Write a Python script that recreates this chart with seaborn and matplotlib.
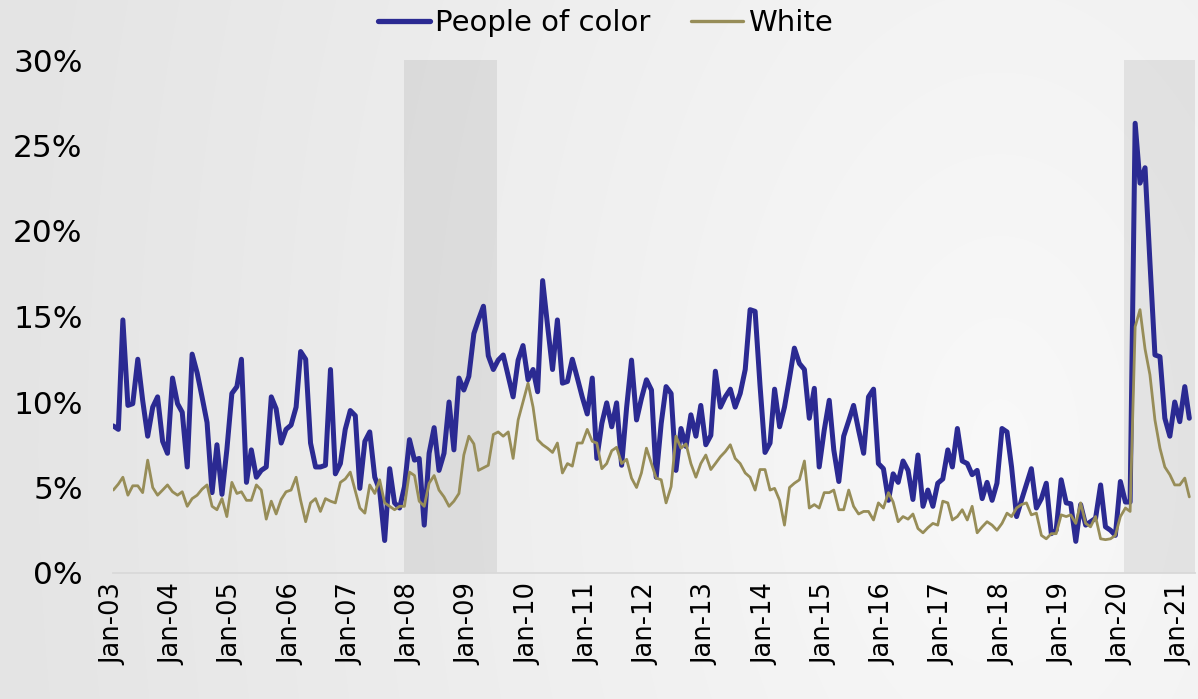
import numpy as np
import pandas as pd
import matplotlib
matplotlib.use("Agg")
import matplotlib.pyplot as plt
import seaborn as sns
from matplotlib.lines import Line2D

# ---------------- data ----------------
start_month = "2003-01-01"

people_of_color = [
    8.6, 8.4, 14.8, 9.8, 9.9, 12.5, 10.1, 8.0, 9.7, 10.3, 7.7, 7.0,          # 2003
    11.4, 9.9, 9.4, 6.2, 12.8, 11.7, 10.3, 8.8, 4.7, 7.5, 4.6, 7.2,          # 2004
    10.5, 10.9, 12.5, 5.3, 7.2, 5.6, 6.0, 6.2, 10.3, 9.6, 7.6, 8.4,          # 2005
    8.65, 9.7, 12.95, 12.5, 7.6, 6.2, 6.2, 6.3, 11.9, 5.8, 6.4, 8.4,         # 2006
    9.5, 9.2, 4.95, 7.7, 8.25, 5.6, 4.85, 1.9, 6.1, 4.1, 3.8, 5.05,          # 2007
    7.8, 6.6, 6.7, 2.8, 7.0, 8.5, 6.0, 7.0, 10.0, 7.2, 11.4, 10.7,           # 2008
    11.5, 14.0, 14.8, 15.6, 12.7, 11.9, 12.45, 12.75, 11.5, 10.3, 12.45, 13.3,  # 2009
    11.3, 11.9, 10.6, 17.1, 14.5, 11.9, 14.8, 11.1, 11.2, 12.5, 11.4, 10.3,  # 2010
    9.3, 11.4, 6.7, 8.75, 9.95, 8.55, 9.95, 6.3, 9.7, 12.45, 8.95, 10.2,     # 2011
    11.3, 10.7, 5.6, 8.75, 10.9, 10.5, 6.0, 8.45, 7.4, 9.25, 8.0, 9.8,       # 2012
    7.5, 8.05, 11.8, 9.7, 10.3, 10.75, 9.7, 10.5, 11.9, 15.4, 15.3, 11.0,    # 2013
    7.05, 7.6, 10.75, 8.55, 9.7, 11.4, 13.15, 12.25, 11.9, 9.05, 10.8, 6.2,  # 2014
    8.35, 10.1, 7.2, 5.35, 8.0, 8.9, 9.8, 8.35, 7.0, 10.3, 10.75, 6.4,       # 2015
    6.1, 4.25, 5.8, 5.3, 6.55, 6.0, 4.3, 6.9, 3.9, 4.85, 3.9, 5.25,          # 2016
    5.5, 7.2, 6.2, 8.45, 6.55, 6.4, 5.75, 6.0, 4.35, 5.3, 4.25, 5.25,        # 2017
    8.45, 8.25, 6.2, 3.3, 4.25, 5.2, 6.1, 3.8, 4.35, 5.25, 2.3, 2.5,         # 2018
    5.45, 4.1, 4.05, 1.85, 4.0, 2.8, 3.0, 3.2, 5.15, 2.7, 2.5, 2.2,          # 2019
    5.35, 4.15, 4.15, 26.3, 22.8, 23.7, 18.2, 12.75, 12.65, 9.05, 8.0, 10.0, # 2020
    8.85, 10.9, 9.05,                                                        # 2021
]

white = [
    4.85, 5.2, 5.6, 4.55, 5.1, 5.1, 4.7, 6.6, 5.0, 4.55, 4.85, 5.15,         # 2003
    4.75, 4.55, 4.75, 3.9, 4.35, 4.55, 4.9, 5.15, 3.9, 3.7, 4.35, 3.3,       # 2004
    5.3, 4.65, 4.75, 4.25, 4.25, 5.15, 4.85, 3.15, 4.2, 3.45, 4.3, 4.75,     # 2005
    4.85, 5.6, 4.25, 3.0, 4.1, 4.35, 3.6, 4.35, 4.2, 4.1, 5.3, 5.5,          # 2006
    5.9, 4.8, 3.8, 3.5, 5.15, 4.65, 5.45, 4.1, 3.9, 3.7, 3.9, 3.9,           # 2007
    5.9, 5.7, 4.2, 3.9, 5.25, 5.7, 4.85, 4.45, 3.9, 4.2, 4.65, 6.9,          # 2008
    8.0, 7.55, 6.0, 6.15, 6.3, 8.1, 8.25, 8.0, 8.25, 6.7, 8.95, 10.0,        # 2009
    11.1, 9.7, 7.8, 7.5, 7.3, 7.05, 7.6, 5.85, 6.4, 6.25, 7.6, 7.6,          # 2010
    8.4, 7.7, 7.6, 6.1, 6.4, 7.15, 7.35, 6.4, 6.65, 5.55, 5.0, 5.85,         # 2011
    7.3, 6.4, 5.55, 5.45, 4.1, 5.05, 8.0, 7.3, 7.55, 6.4, 5.6, 6.4,          # 2012
    6.9, 6.05, 6.4, 6.8, 7.1, 7.5, 6.7, 6.4, 5.85, 5.6, 4.85, 6.05,          # 2013
    6.05, 4.85, 4.95, 4.25, 2.8, 5.0, 5.25, 5.45, 6.55, 3.8, 4.0, 3.8,       # 2014
    4.7, 4.7, 4.85, 3.7, 3.7, 4.85, 3.9, 3.45, 3.6, 3.6, 3.1, 4.1,           # 2015
    3.8, 4.7, 4.15, 3.0, 3.3, 3.15, 3.45, 2.6, 2.35, 2.65, 2.9, 2.8,         # 2016
    4.2, 4.1, 3.1, 3.3, 3.7, 3.1, 3.9, 2.35, 2.7, 3.0, 2.8, 2.5,             # 2017
    2.9, 3.5, 3.3, 3.8, 4.0, 4.1, 3.4, 3.5, 2.2, 2.0, 2.3, 2.3,              # 2018
    3.4, 3.3, 3.4, 2.9, 4.1, 2.9, 2.7, 3.3, 2.0, 1.95, 2.0, 2.2,             # 2019
    3.3, 3.8, 3.6, 14.4, 15.4, 13.1, 11.6, 8.95, 7.3, 6.2, 5.75, 5.15,       # 2020
    5.15, 5.55, 4.45,                                                        # 2021
]

series_names = ["People of color", "White"]
series_colors = ["#2b2a92", "#978d58"]

y_ticks = [0, 5, 10, 15, 20, 25, 30]
y_tick_labels = ["0%", "5%", "10%", "15%", "20%", "25%", "30%"]

x_tick_dates = ["2003-01-01", "2004-01-01", "2005-01-01", "2006-01-01", "2007-01-01",
                "2008-01-01", "2009-01-01", "2010-01-01", "2011-01-01", "2012-01-01",
                "2013-01-01", "2014-01-01", "2015-01-01", "2016-01-01", "2017-01-01",
                "2018-01-01", "2019-01-01", "2020-01-01", "2021-01-01"]
x_tick_labels = ["Jan-03", "Jan-04", "Jan-05", "Jan-06", "Jan-07", "Jan-08", "Jan-09",
                 "Jan-10", "Jan-11", "Jan-12", "Jan-13", "Jan-14", "Jan-15", "Jan-16",
                 "Jan-17", "Jan-18", "Jan-19", "Jan-20", "Jan-21"]

recessions = [("2007-11-28", "2009-06-25"), ("2020-01-24", "2021-04-06")]
x_end = "2021-04-05"

# ---------------- figure ----------------
sns.set_theme(style="white")
plt.rcParams["font.family"] = ["DejaVu Sans"]

W, H = 1198, 699
fig = plt.figure(figsize=(W / 100, H / 100), dpi=100)

# soft background gradient (darker at left, lighter toward right)
bg = fig.add_axes([0, 0, 1, 1], zorder=-10)
yy, xx = np.mgrid[0:H, 0:W]
d = np.sqrt((xx - 1000.0) ** 2 + (0.6 * (yy - 450.0)) ** 2) / 1000.0
val = 0.975 - 0.08 * np.clip(d, 0, 1)
rgb = np.dstack([val, val, val])
bg.imshow(rgb, aspect="auto", extent=[0, 1, 0, 1], interpolation="bilinear")
bg.set_axis_off()

left = 113.3 / W
right = 1195.0 / W
bottom = 1 - 573.0 / H
top = 1 - 60.0 / H
ax = fig.add_axes([left, bottom, right - left, top - bottom])
ax.patch.set_alpha(0)

dates = pd.date_range(start_month, periods=len(people_of_color), freq="MS")
df = pd.DataFrame({
    "date": list(dates) + list(dates),
    "rate": people_of_color + white,
    "group": [series_names[0]] * len(people_of_color) + [series_names[1]] * len(white),
})

for s, e in recessions:
    ax.axvspan(pd.Timestamp(s), pd.Timestamp(e), ymin=0, ymax=1,
               color="black", alpha=0.07, lw=0, zorder=0)

sns.lineplot(data=df, x="date", y="rate", hue="group", hue_order=series_names,
             palette=dict(zip(series_names, series_colors)),
             size="group", sizes={series_names[0]: 3.6, series_names[1]: 2.0},
             size_order=series_names, legend=False, ax=ax, sort=False)
for ln in ax.get_lines():
    ln.set_solid_joinstyle("round")
    ln.set_solid_capstyle("round")

ax.set_xlim(pd.Timestamp(start_month), pd.Timestamp(x_end))
ax.set_ylim(0, 30)
ax.set_yticks(y_ticks)
ax.set_yticklabels(y_tick_labels, fontsize=22.5, color="black")
ax.set_xticks(pd.to_datetime(x_tick_dates))
ax.set_xticklabels(x_tick_labels, rotation=90, fontsize=18.5, color="black")
ax.set_xlabel("")
ax.set_ylabel("")

ax.tick_params(axis="y", length=0, pad=22)
ax.tick_params(axis="x", length=4.5, width=1.3, color="#d4d4d4", pad=3, direction="out")
for sp in ["top", "right", "left"]:
    ax.spines[sp].set_visible(False)
ax.spines["bottom"].set_color("#d9d9d9")
ax.spines["bottom"].set_linewidth(1.3)
ax.grid(False)

handles = [Line2D([0], [0], color=series_colors[0], lw=3.8, solid_capstyle="round"),
           Line2D([0], [0], color=series_colors[1], lw=2.4, solid_capstyle="round")]
fig.legend(handles, series_names, loc="center", bbox_to_anchor=(0.505, 0.967),
           ncol=2, frameon=False, fontsize=21, handlelength=1.8,
           handletextpad=0.15, columnspacing=1.4, borderpad=0, labelcolor="black")

fig.savefig("out.png", dpi=100)
